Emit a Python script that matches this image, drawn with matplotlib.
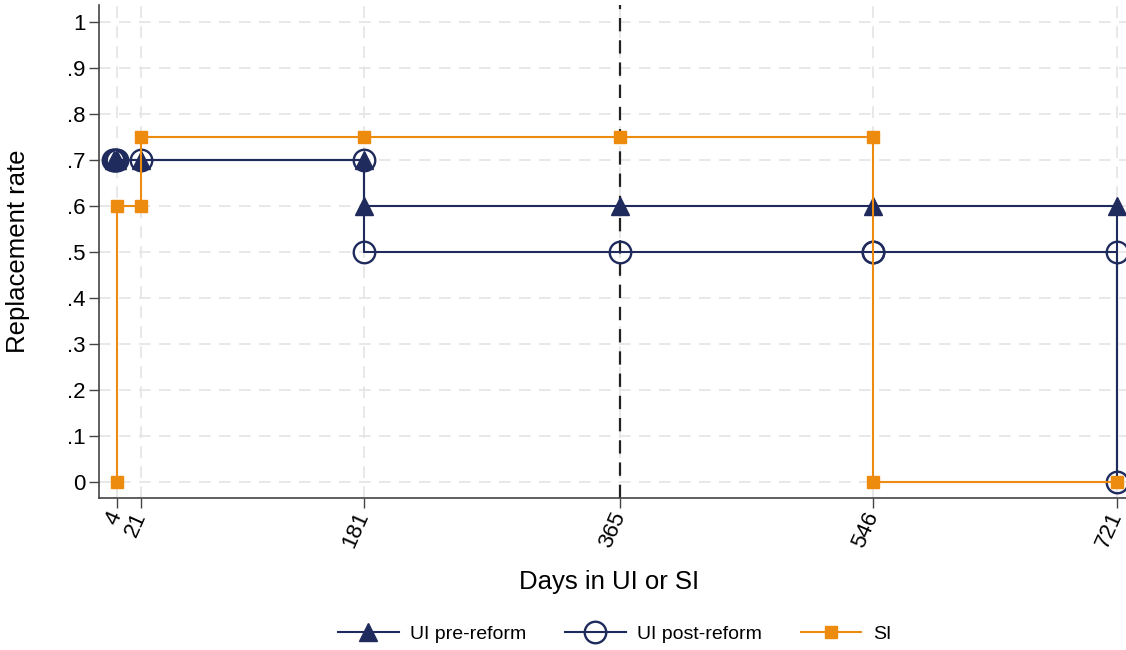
import numpy as np
import matplotlib
matplotlib.use("Agg")
import matplotlib.pyplot as plt

# data
ui_pre_days = [2, 3, 4, 21, 181, 181, 365, 546, 721, 721]
ui_pre_rate = [0.7, 0.7, 0.7, 0.7, 0.7, 0.6, 0.6, 0.6, 0.6, 0.0]

ui_post_days = [1, 2, 3, 4, 21, 181, 181, 365, 546, 546, 721, 721]
ui_post_rate = [0.7, 0.7, 0.7, 0.7, 0.7, 0.7, 0.5, 0.5, 0.5, 0.5, 0.5, 0.0]

si_days = [4, 4, 21, 21, 181, 365, 546, 546, 721]
si_rate = [0.0, 0.6, 0.6, 0.75, 0.75, 0.75, 0.75, 0.0, 0.0]

x_ticks = [4, 21, 181, 365, 546, 721]
y_ticks = [0, 0.1, 0.2, 0.3, 0.4, 0.5, 0.6, 0.7, 0.8, 0.9, 1.0]
y_labels = ["0", ".1", ".2", ".3", ".4", ".5", ".6", ".7", ".8", ".9", "1"]

navy = "#1e2b5c"
orange = "#ec8b0e"

plt.rcParams['font.family'] = ['Liberation Sans', 'DejaVu Sans']

fig = plt.figure(figsize=(11.26, 6.5), dpi=100)
ax = fig.add_axes([0.0879, 0.2338, 0.9121, 0.7585])

# grid
for t in x_ticks:
    ax.axvline(t, color="#e4e4e4", lw=1.2, dashes=(7, 5), zorder=0)
for t in y_ticks:
    ax.axhline(t, color="#e4e4e4", lw=1.2, dashes=(7, 5), zorder=0)

# dashed marker line at one year
ax.axvline(365, color="#222222", lw=1.6, dashes=(6, 4), zorder=1)

# pre-reform: no triangle drawn at the final drop to zero
ax.plot(ui_pre_days, ui_pre_rate, color=navy, lw=1.5, marker="^", markersize=13,
        markevery=list(range(len(ui_pre_days) - 1)), label="UI pre-reform", zorder=3)
ax.plot(ui_post_days, ui_post_rate, color=navy, lw=1.5, marker="o", markersize=15.5,
        markerfacecolor="none", markeredgewidth=1.7, label="UI post-reform", zorder=4)
ax.plot(si_days, si_rate, color=orange, lw=1.5, marker="s", markersize=8.5,
        label="SI", zorder=5)

ax.set_xlim(-8.9, 727.5)
ax.set_ylim(-0.035, 1.037)

ax.set_xticks(x_ticks)
ax.set_xticklabels([str(t) for t in x_ticks], rotation=66, ha="right", va="center",
                   rotation_mode="anchor", fontsize=16)
ax.set_yticks(y_ticks)
ax.set_yticklabels(y_labels, fontsize=16)
ax.tick_params(axis="both", length=7.5, width=1, color="#444444", direction="out")
ax.tick_params(axis="x", pad=3)
ax.tick_params(axis="y", pad=2)

for side in ["top", "right"]:
    ax.spines[side].set_visible(False)
for side in ["left", "bottom"]:
    ax.spines[side].set_color("#444444")
    ax.spines[side].set_linewidth(1.2)

ax.set_xlabel("Days in UI or SI", fontsize=18.5)
ax.set_ylabel("Replacement rate", fontsize=18.5)
ax.xaxis.set_label_coords(0.497, -0.146)
ax.yaxis.set_label_coords(-0.067, 0.5)

fig.legend(loc="center", bbox_to_anchor=(0.546, 0.025), ncol=3, frameon=False,
           fontsize=14, handlelength=3.1, columnspacing=2.0, handletextpad=0.6)

fig.savefig("out.png", dpi=100)
